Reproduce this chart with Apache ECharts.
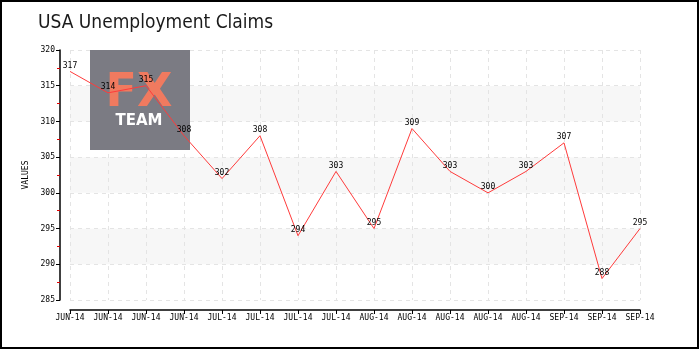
<!DOCTYPE html>
<html>
<head>
<meta charset="utf-8">
<style>
  html, body { margin: 0; padding: 0; background: #fff; }
  #chart { width: 700px; height: 350px; }
</style>
<script src="https://cdn.jsdelivr.net/npm/echarts@6/dist/echarts.min.js"></script>
</head>
<body>
<div id="chart"></div>
<script>
// Weekly initial jobless claims (thousands)
const categories = [
  'JUN-14', 'JUN-14', 'JUN-14', 'JUN-14',
  'JUL-14', 'JUL-14', 'JUL-14', 'JUL-14',
  'AUG-14', 'AUG-14', 'AUG-14', 'AUG-14', 'AUG-14',
  'SEP-14', 'SEP-14', 'SEP-14'
];
const claims = [317, 314, 315, 308, 302, 308, 294, 303, 295, 309, 303, 300, 303, 307, 288, 295];
const yMin = 285;
const yMax = 320;
const yStep = 5;

const tickFont = 'DejaVu Sans Mono';
const chart = echarts.init(document.getElementById('chart'));

chart.setOption({
  animation: false,
  backgroundColor: '#fff',
  title: {
    text: 'USA Unemployment Claims',
    left: 33,
    top: 9,
    textStyle: {
      fontFamily: '"DejaVu Sans Condensed", "DejaVu Sans"',
      fontWeight: 'normal',
      fontSize: 19,
      color: '#1a1a1a'
    }
  },
  graphic: [
    {
      type: 'rect',
      z: 1,
      silent: true,
      shape: { x: 1, y: 1, width: 697, height: 347 },
      style: { fill: 'none', stroke: '#000', lineWidth: 2 }
    },
    {
      type: 'rect',
      z: 1,
      silent: true,
      shape: { x: 90, y: 50, width: 100, height: 100 },
      style: { fill: '#7b7b83' }
    },
    {
      type: 'text',
      z: 1,
      silent: true,
      x: 139,
      y: 94,
      style: {
        text: 'FX',
        fill: '#f07a5f',
        font: 'bold 46px "DejaVu Sans"',
        align: 'center',
        verticalAlign: 'middle'
      }
    },
    {
      type: 'text',
      z: 1,
      silent: true,
      x: 139,
      y: 121,
      style: {
        text: 'TEAM',
        fill: '#ffffff',
        font: 'bold 15px "DejaVu Sans"',
        align: 'center',
        verticalAlign: 'middle'
      }
    }
  ],
  grid: { left: 70, right: 60, top: 50, bottom: 50 },
  xAxis: {
    type: 'category',
    data: categories,
    boundaryGap: false,
    offset: 10,
    axisLine: { lineStyle: { color: '#000', width: 1.5 } },
    axisTick: { inside: false, length: 4, lineStyle: { color: '#000' } },
    axisLabel: {
      interval: 0,
      color: '#000',
      fontFamily: tickFont,
      fontSize: 8,
      margin: 4
    },
    splitLine: { show: true, lineStyle: { color: '#e4e4e4', type: [4, 4] } }
  },
  yAxis: {
    type: 'value',
    min: yMin,
    max: yMax,
    interval: yStep,
    offset: 10,
    name: 'VALUES',
    nameLocation: 'middle',
    nameGap: 21,
    nameTextStyle: { fontFamily: tickFont, fontSize: 8, color: '#000' },
    axisLine: { show: true, lineStyle: { color: '#000', width: 1.5 } },
    axisTick: { show: true, length: 4, lineStyle: { color: '#000' } },
    minorTick: { show: true, splitNumber: 2, length: 3, lineStyle: { color: '#e00000' } },
    axisLabel: { color: '#000', fontFamily: tickFont, fontSize: 8, margin: 5 },
    splitLine: { show: true, lineStyle: { color: '#e4e4e4', type: [4, 4] } },
    splitArea: { show: true, areaStyle: { color: ['#ffffff', '#f7f7f7'] } }
  },
  series: [{
    type: 'line',
    data: claims,
    z: 5,
    symbol: 'circle',
    symbolSize: 0,
    showSymbol: true,
    lineStyle: { color: '#ff3b3b', width: 1 },
    itemStyle: { color: '#ff3b3b' },
    label: {
      show: true,
      position: 'top',
      distance: 2,
      color: '#000',
      fontFamily: tickFont,
      fontSize: 8
    }
  }]
});
</script>
</body>
</html>
